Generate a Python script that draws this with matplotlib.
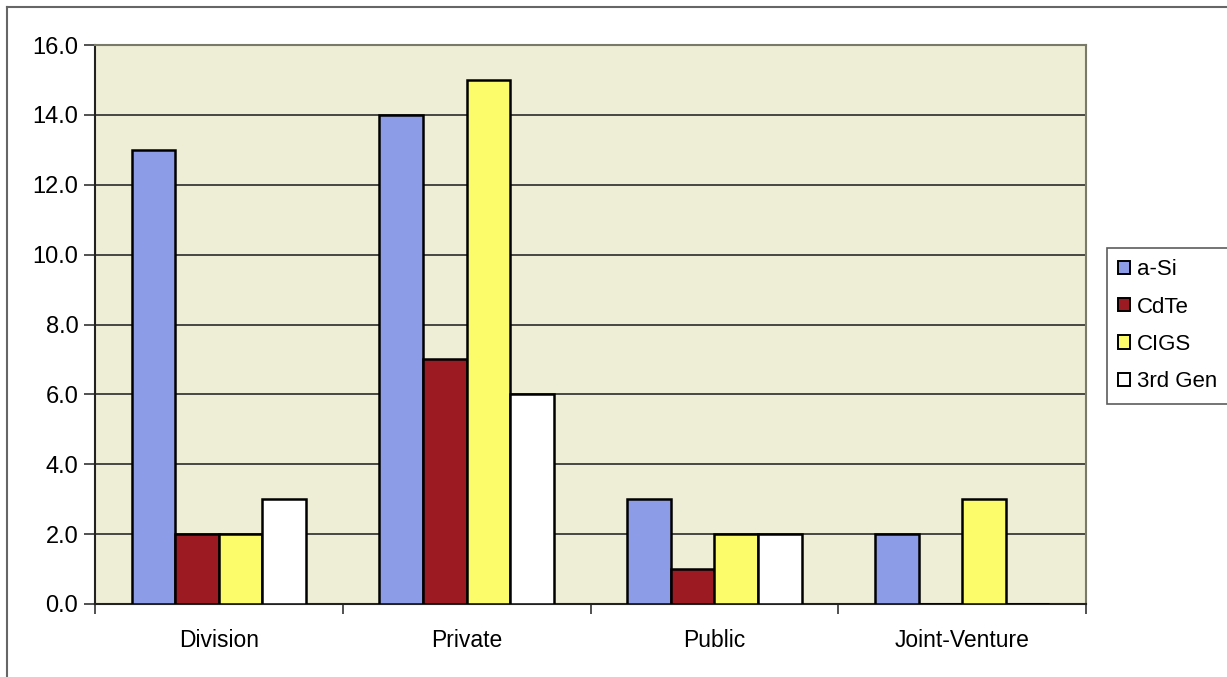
import numpy as np
import matplotlib
matplotlib.use("Agg")
import matplotlib.pyplot as plt
from matplotlib.lines import Line2D

plt.rcParams['font.family'] = ['Liberation Sans', 'DejaVu Sans']

categories = ["Division", "Private", "Public", "Joint-Venture"]
series_names = ["a-Si", "CdTe", "CIGS", "3rd Gen"]
a_si = [13, 14, 3, 2]
cdte = [2, 7, 1, 0]
cigs = [2, 15, 2, 3]
third_gen = [3, 6, 2, 0]
y_ticks = [0, 2, 4, 6, 8, 10, 12, 14, 16]

values = [a_si, cdte, cigs, third_gen]
colors = ["#8c9ce6", "#9c1a22", "#fcfc6a", "#ffffff"]

fig = plt.figure(figsize=(12.27, 6.77), dpi=100)
W, H = 1227, 677
ax = fig.add_axes([95 / W, 1 - 604 / H, (1086 - 95) / W, (604 - 45) / H])
ax.set_facecolor("#eeedd6")

x = np.arange(len(categories))
bw = 0.176
for i, (vals, col) in enumerate(zip(values, colors)):
    offs = (i - 1.5) * bw
    ax.bar(x + offs, vals, width=bw, color=col, edgecolor="black",
           linewidth=1.8, zorder=3)

ax.set_xlim(-0.5, len(categories) - 0.5)
ax.set_ylim(0, 16)
ax.set_yticks(y_ticks)
ax.set_yticklabels([f"{v:.1f}" for v in y_ticks], fontsize=17)
ax.yaxis.grid(True, color="#2a2a2a", linewidth=1.2, zorder=1)
ax.set_axisbelow(True)

ax.set_xticks(x)
ax.set_xticklabels(categories, fontsize=16.5)
ax.tick_params(axis="x", length=0, pad=18)
ax.set_xticks(np.arange(len(categories) + 1) - 0.5, minor=True)
ax.tick_params(axis="x", which="minor", length=7, width=1.2, color="#333333")
ax.tick_params(axis="y", length=8, width=1.2, pad=4, color="#333333")

for side in ["left", "bottom"]:
    ax.spines[side].set_color("#222222")
    ax.spines[side].set_linewidth(1.5)
for side in ["top", "right"]:
    ax.spines[side].set_color("#7a7a6a")
    ax.spines[side].set_linewidth(1.5)

handles = [plt.Rectangle((0, 0), 1, 1, facecolor=c, edgecolor="black", linewidth=1.4)
           for c in colors]
leg = fig.legend(handles, series_names, loc="upper left",
                 bbox_to_anchor=(1107 / W, 1 - 248 / H), fontsize=16,
                 frameon=True, fancybox=False, edgecolor="#333333",
                 handlelength=0.55, handleheight=0.55, handletextpad=0.3,
                 labelspacing=0.74, borderpad=0.5, borderaxespad=0)
leg.get_frame().set_linewidth(1.2)
leg._legend_box.sep = 2

# outer chart border (left and top edges)
fig.add_artist(Line2D([7 / W, 7 / W], [0, 1 - 7 / H], transform=fig.transFigure,
                      color="#666666", linewidth=1.5))
fig.add_artist(Line2D([7 / W, 1], [1 - 7 / H, 1 - 7 / H], transform=fig.transFigure,
                      color="#666666", linewidth=1.5))

fig.savefig("out.png", dpi=100)
